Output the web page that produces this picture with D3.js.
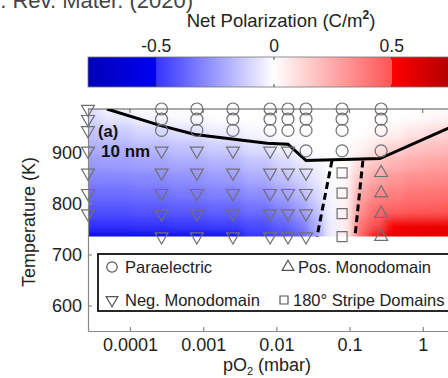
<!DOCTYPE html>
<html><head><meta charset="utf-8">
<script src="https://cdn.jsdelivr.net/npm/d3@7"></script>
<style>html,body{margin:0;padding:0;background:#fff;overflow:hidden}svg{display:block}</style>
</head><body>
<svg id="chart" width="448" height="378"></svg>
<script>
// ---------------- data ----------------
const pO2Columns = [2.67e-5, 2.7e-4, 8.2e-4, 2.55e-3, 8.2e-3, 1.44e-2, 2.54e-2, 7.9e-2, 2.7e-1];
const tempRows = [735, 780, 820, 860, 903, 943, 965, 985];
// phase per column, bottom row -> top row. P=paraelectric, N=neg mono, U=pos mono, S=stripes, -=none
const phaseColumns = ["-NNNNNNN", "NNNNNPPP", "NNNNNPPP", "NNNNNPPP", "NNNNNPPP", "NNNNNPPP", "NNNNPPPP", "SSSSPPPP", "UUUUPPPP"];

const boundaryPO2 = [4.85e-5, 2.57e-4, 7.73e-4, 7.45e-3, 1.44e-2, 2.54e-2, 0.26, 2.21, 4];
const boundaryT   = [985, 953, 935, 918, 916, 884, 888, 947, 963];
const stripeLeftPO2 = [0.0575, 0.0359];
const stripeLeftT   = [884, 735];
const stripeRightPO2 = [0.152, 0.1186];
const stripeRightT   = [884, 735];

const xTicks = [1e-4, 1e-3, 1e-2, 1e-1, 1];
const xTickLabels = ["0.0001", "0.001", "0.01", "0.1", "1"];
const yTicks = [600, 700, 800, 900];
const cbTicks = [-0.5, 0, 0.5];
const cbTickLabels = ["-0.5", "0", "0.5"];

// net polarization field (C/m^2)
const fieldPO2 = [2.5e-5, 6.3e-5, 2e-4, 6.3e-4, 2e-3, 6.3e-3, 1.26e-2, 2.24e-2, 3.55e-2, 5.6e-2, 8.9e-2, 0.141, 0.224, 0.398, 0.794, 1.585, 3.16];
const fieldT = [735, 760, 790, 820, 850, 880, 910, 940, 970, 990];
const field735 = [-0.55,-0.55,-0.55,-0.54,-0.53,-0.5,-0.46,-0.4,-0.25,-0.04,0.05,0.45,0.55,0.57,0.58,0.59,0.6];
const field760 = [-0.5,-0.5,-0.49,-0.48,-0.46,-0.43,-0.38,-0.32,-0.2,-0.04,0.05,0.4,0.5,0.52,0.54,0.55,0.56];
const field790 = [-0.42,-0.42,-0.41,-0.4,-0.38,-0.35,-0.3,-0.24,-0.15,-0.03,0.04,0.32,0.42,0.45,0.47,0.48,0.5];
const field820 = [-0.36,-0.36,-0.35,-0.33,-0.31,-0.28,-0.23,-0.17,-0.1,-0.02,0.03,0.25,0.34,0.37,0.4,0.41,0.42];
const field850 = [-0.3,-0.3,-0.29,-0.27,-0.25,-0.21,-0.16,-0.11,-0.06,-0.01,0.02,0.18,0.26,0.3,0.33,0.34,0.35];
const field880 = [-0.25,-0.24,-0.23,-0.21,-0.19,-0.15,-0.1,-0.06,-0.03,0,0.01,0.1,0.17,0.22,0.25,0.27,0.28];
const field910 = [-0.2,-0.19,-0.17,-0.15,-0.12,-0.08,-0.04,-0.02,0,0,0,0.03,0.08,0.13,0.17,0.19,0.21];
const field940 = [-0.15,-0.13,-0.1,-0.08,-0.05,-0.02,0,0,0,0,0,0,0.02,0.04,0.08,0.11,0.13];
const field970 = [-0.1,-0.06,-0.03,-0.01,0,0,0,0,0,0,0,0,0,0,0.01,0.03,0.05];
const field990 = [-0.07,-0.02,0,0,0,0,0,0,0,0,0,0,0,0,0,0,0.01];
const fieldRows = [field735, field760, field790, field820, field850, field880, field910, field940, field970, field990];

// ---------------- drawing ----------------
const FONT = "'Liberation Sans', Arial, Helvetica, sans-serif";
const svg = d3.select("#chart").style("font-family", FONT);

const x = d3.scaleLog().domain([2.67e-5, 4]).range([88, 88 + Math.log10(4 / 2.67e-5) * 73.2]);
const y = d3.scaleLinear().domain([550, 985]).range([331, 109]);
const color = d3.scaleLinear()
  .domain([-0.79, -0.501, -0.5, 0, 0.5, 0.501, 0.79])
  .range(["#0000b8", "#0000f2", "#3434ff", "#ffffff", "#ff5454", "#ff0000", "#a40000"])
  .clamp(true);
const cb = d3.scaleLinear().domain([-0.79, 0.79]).range([88, 460]);

const defs = svg.append("defs");
defs.append("clipPath").attr("id", "heatClip").append("rect")
  .attr("x", x(2.67e-5)).attr("y", y(985))
  .attr("width", 460 - x(2.67e-5)).attr("height", y(735) - y(985));
const blur = defs.append("filter").attr("id", "soft")
  .attr("filterUnits", "userSpaceOnUse")
  .attr("x", 0).attr("y", 60).attr("width", 520).attr("height", 240);
blur.append("feGaussianBlur").attr("stdDeviation", 5);

// heatmap cells
const cxs = fieldPO2.map(v => x(v));
const cys = fieldT.map(v => y(v));
function edges(arr, pad) {
  const e = [];
  for (let i = 0; i < arr.length; i++) {
    const lo = i === 0 ? arr[0] - pad * Math.sign(arr[1] - arr[0]) : (arr[i - 1] + arr[i]) / 2;
    const hi = i === arr.length - 1 ? arr[i] + pad * Math.sign(arr[i] - arr[i - 1]) : (arr[i] + arr[i + 1]) / 2;
    e.push([lo, hi]);
  }
  return e;
}
const xe = edges(cxs, 30), ye = edges(cys, 30);
const cells = [];
fieldRows.forEach((row, r) => row.forEach((v, c) => cells.push({ r, c, v })));
const heat = svg.append("g").attr("clip-path", "url(#heatClip)")
  .append("g").attr("filter", "url(#soft)");
heat.selectAll("rect").data(cells).join("rect")
  .attr("x", d => Math.min(xe[d.c][0], xe[d.c][1]) - 0.5)
  .attr("width", d => Math.abs(xe[d.c][1] - xe[d.c][0]) + 1)
  .attr("y", d => Math.min(ye[d.r][0], ye[d.r][1]) - 0.5)
  .attr("height", d => Math.abs(ye[d.r][1] - ye[d.r][0]) + 1)
  .attr("fill", d => color(d.v));

// header text (cut off at top, as in the source)
svg.append("text").attr("x", 193).attr("y", 8).attr("text-anchor", "end")
  .attr("font-size", 22).attr("fill", "#444").text("Phys. Rev. Mater. (2020)");

// colorbar
const grad = defs.append("linearGradient").attr("id", "cbgrad")
  .attr("gradientUnits", "userSpaceOnUse").attr("x1", cb(-0.79)).attr("x2", cb(0.79)).attr("y1", 0).attr("y2", 0);
const stopVals = d3.range(0, 161).map(i => -0.79 + i * (1.58 / 160)).concat([-0.501, -0.5, 0.5, 0.501]).sort((a, b) => a - b);
grad.selectAll("stop").data(stopVals).join("stop")
  .attr("offset", d => (d + 0.79) / 1.58)
  .attr("stop-color", d => color(d));
svg.append("rect").attr("x", cb(-0.79)).attr("y", 57).attr("width", cb(0.79) - cb(-0.79)).attr("height", 30)
  .attr("fill", "url(#cbgrad)").attr("stroke", "#777").attr("stroke-width", 0.8);
svg.append("g").selectAll("path").data(cbTicks).join("path")
  .attr("d", d => `M${cb(d)},57v3M${cb(d)},87v-3`).attr("stroke", "#444").attr("stroke-width", 1);
svg.append("g").selectAll("text").data(cbTicks).join("text")
  .attr("x", d => cb(d)).attr("y", 52).attr("text-anchor", "middle")
  .attr("font-size", 17.5).attr("fill", "#222").text((d, i) => cbTickLabels[i]);
const cbt = svg.append("text").attr("x", 281).attr("y", 27).attr("text-anchor", "middle")
  .attr("font-size", 18.5).attr("fill", "#222");
cbt.append("tspan").text("Net Polarization (C/m");
cbt.append("tspan").attr("font-size", 12).attr("font-weight", "bold").attr("dy", -8).text("2");
cbt.append("tspan").attr("dy", 8).text(")");

// axes
const axisColor = "#888";
const gx = svg.append("g").attr("transform", `translate(0,${y(550)})`)
  .call(d3.axisBottom(x).tickValues(xTicks).tickFormat((d, i) => xTickLabels[i]).tickSize(-4).tickSizeOuter(0).tickPadding(7));
const gy = svg.append("g").attr("transform", `translate(${x(2.67e-5)},0)`)
  .call(d3.axisLeft(y).tickValues(yTicks).tickSize(-4).tickSizeOuter(0).tickPadding(6));
[gx, gy].forEach(g => {
  g.select(".domain").attr("stroke", axisColor).attr("stroke-width", 1.2);
  g.selectAll(".tick line").attr("stroke", axisColor).attr("stroke-width", 1.2);
  g.selectAll(".tick text").attr("font-size", 18).attr("fill", "#222").attr("font-family", FONT);
});
// top border with inward ticks
svg.append("line").attr("x1", x(2.67e-5)).attr("x2", 448).attr("y1", y(985)).attr("y2", y(985))
  .attr("stroke", "#555").attr("stroke-width", 1);
svg.append("g").selectAll("path").data(xTicks).join("path")
  .attr("d", d => `M${x(d)},${y(985)}v4`).attr("stroke", "#666").attr("stroke-width", 1);

// axis titles
const xt = svg.append("text").attr("x", 267).attr("y", 371).attr("text-anchor", "middle")
  .attr("font-size", 18).attr("fill", "#222");
xt.append("tspan").text("pO");
xt.append("tspan").attr("font-size", 11).attr("dy", 3.5).text("2");
xt.append("tspan").attr("dy", -3.5).text(" (mbar)");
svg.append("text").attr("transform", `translate(35,${(y(985) + 331) / 2 + 2}) rotate(-90)`)
  .attr("text-anchor", "middle").attr("font-size", 18).attr("fill", "#222").text("Temperature (K)");

// phase boundary lines
const line = d3.line().x(d => x(d[0])).y(d => y(d[1]));
svg.append("path").datum(boundaryPO2.map((p, i) => [p, boundaryT[i]]))
  .attr("d", line).attr("fill", "none").attr("stroke", "#000").attr("stroke-width", 3)
  .attr("clip-path", "url(#heatClip)");
[[stripeLeftPO2, stripeLeftT], [stripeRightPO2, stripeRightT]].forEach(([ps, ts]) => {
  svg.append("path").datum(ps.map((p, i) => [p, ts[i]]))
    .attr("d", line).attr("fill", "none").attr("stroke", "#000").attr("stroke-width", 3)
    .attr("stroke-dasharray", "7,4");
});

// markers
const mk = {
  P: d3.symbol().type(d3.symbolCircle).size(113)(),
  N: d3.symbol().type(d3.symbolTriangle).size(72)(),
  U: d3.symbol().type(d3.symbolTriangle).size(72)(),
  S: d3.symbol().type(d3.symbolSquare).size(100)()
};
const pts = [];
phaseColumns.forEach((col, c) => col.split("").forEach((ph, r) => { if (ph !== "-") pts.push({ p: pO2Columns[c], t: tempRows[r], ph }); }));
svg.append("g").selectAll("path").data(pts).join("path")
  .attr("d", d => mk[d.ph])
  .attr("transform", d => `translate(${x(d.p)},${y(d.t)})` + (d.ph === "N" ? " rotate(180)" : ""))
  .attr("fill", "none").attr("stroke", "#707070").attr("stroke-width", 1.2);

// panel label
svg.append("text").attr("x", 98).attr("y", 137).attr("font-size", 16.5).attr("font-weight", "bold").attr("fill", "#111").text("(a)");
svg.append("text").attr("x", 101).attr("y", 157).attr("font-size", 17).attr("font-weight", "bold").attr("fill", "#111").text("10 nm");

// legend
const lg = svg.append("g");
lg.append("rect").attr("x", 98).attr("y", 254).attr("width", 352).attr("height", 57)
  .attr("fill", "#fff").attr("stroke", "#111").attr("stroke-width", 1.8);
const legendItems = [
  { ph: "P", label: "Paraelectric", mx: 112, my: 267, tx: 125 },
  { ph: "U", label: "Pos. Monodomain", mx: 288, my: 267, tx: 298 },
  { ph: "N", label: "Neg. Monodomain", mx: 112, my: 300, tx: 125 },
  { ph: "S", label: "180° Stripe Domains", mx: 284, my: 300, tx: 293 }
];
const lmk = {
  P: d3.symbol().type(d3.symbolCircle).size(85)(),
  N: d3.symbol().type(d3.symbolTriangle).size(60)(),
  U: d3.symbol().type(d3.symbolTriangle).size(60)(),
  S: d3.symbol().type(d3.symbolSquare).size(64)()
};
lg.selectAll("path.m").data(legendItems).join("path").attr("class", "m")
  .attr("d", d => lmk[d.ph])
  .attr("transform", d => `translate(${d.mx},${d.my})` + (d.ph === "N" ? " rotate(180)" : ""))
  .attr("fill", "none").attr("stroke", "#555").attr("stroke-width", 1.2);
lg.selectAll("text").data(legendItems).join("text")
  .attr("x", d => d.tx).attr("y", d => d.my + 6).attr("font-size", 16.5).attr("fill", "#222")
  .text(d => d.label);
</script>
</body></html>
